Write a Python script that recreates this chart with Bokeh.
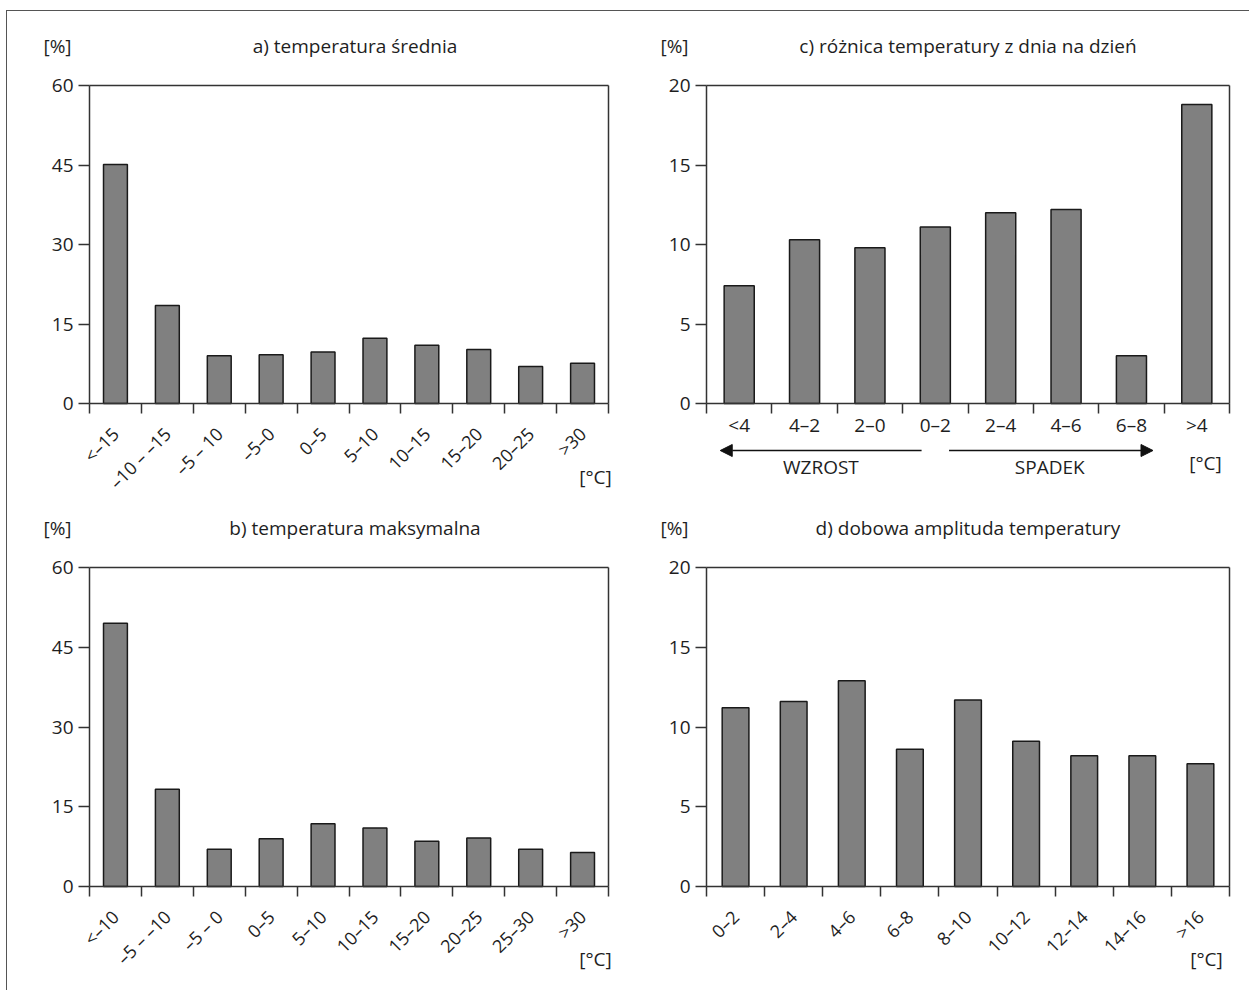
import math
import numpy as np
from bokeh.plotting import figure
from bokeh.layouts import column, row
from bokeh.models import (Range1d, LinearAxis, FixedTicker, Label, Arrow, NormalHead)
from bokeh.embed import file_html
from bokeh.resources import INLINE

# ---------------- data ----------------
cats_a = ["<–15", "–10 – –15", "–5 – 10", "–5–0", "0–5", "5–10", "10–15", "15–20", "20–25", ">30"]
vals_a = [45.1, 18.5, 9.0, 9.2, 9.7, 12.3, 11.0, 10.2, 7.0, 7.6]

cats_b = ["<–10", "–5 – –10", "–5 – 0", "0–5", "5–10", "10–15", "15–20", "20–25", "25–30", ">30"]
vals_b = [49.5, 18.3, 7.0, 9.0, 11.8, 11.0, 8.5, 9.1, 7.0, 6.4]

cats_c = ["<4", "4–2", "2–0", "0–2", "2–4", "4–6", "6–8", ">4"]
vals_c = [7.4, 10.3, 9.8, 11.1, 12.0, 12.2, 3.0, 18.8]

cats_d = ["0–2", "2–4", "4–6", "6–8", "8–10", "10–12", "12–14", "14–16", ">16"]
vals_d = [11.2, 11.6, 12.9, 8.6, 11.7, 9.1, 8.2, 8.2, 7.7]

yticks_ab = [0, 15, 30, 45, 60]
yticks_cd = [0, 5, 10, 15, 20]

title_a = "a) temperatura średnia"
title_b = "b) temperatura maksymalna"
title_c = "c) różnica temperatury z dnia na dzień"
title_d = "d) dobowa amplituda temperatury"
unit_y = "[%]"
unit_x = "[°C]"
word_up = "WZROST"
word_down = "SPADEK"

FONT = "Open Sans"
FS = "19px"
FS_ROT = "18px"
TXT = "#1e1e1e"
LINE = "#333333"


def no_tick_axis(loc, bnds):
    ax = LinearAxis(fixed_location=loc, bounds=bnds,
                    ticker=FixedTicker(ticks=[], minor_ticks=[]))
    ax.major_tick_out = 0
    ax.major_tick_in = 0
    ax.minor_tick_out = 0
    ax.minor_tick_in = 0
    ax.major_label_text_font_size = "0px"
    ax.axis_line_color = LINE
    ax.axis_line_width = 1.5
    return ax


def panel(cats, vals, yticks, title, W, H, L, T, FW, FH, rotate,
          title_dx, unit_dx, unit_dy):
    n = len(cats)
    ymax = yticks[-1]
    ppx = FW / n
    ppy = FH / ymax
    xr = Range1d(-L / ppx, (W - L) / ppx)
    yr = Range1d(-(H - T - FH) / ppy, ymax + T / ppy)
    p = figure(width=W, height=H, output_backend="svg", toolbar_location=None,
               x_range=xr, y_range=yr, x_axis_type=None, y_axis_type=None,
               min_border=0, min_border_left=0, min_border_right=0,
               min_border_top=0, min_border_bottom=0)
    p.title.visible = False
    p.outline_line_color = None
    p.background_fill_color = "white"
    p.border_fill_color = "white"

    centers = list(np.arange(n) + 0.5)
    bounds = list(range(n + 1))

    xa = LinearAxis(fixed_location=0, bounds=(0, n),
                    ticker=FixedTicker(ticks=centers, minor_ticks=bounds))
    xa.major_label_overrides = {c: lab for c, lab in zip(centers, cats)}
    xa.major_tick_out = 0
    xa.major_tick_in = 0
    xa.minor_tick_out = 10
    xa.minor_tick_in = 0
    xa.minor_tick_line_color = LINE
    xa.minor_tick_line_width = 1.5
    xa.axis_line_color = LINE
    xa.axis_line_width = 1.5
    xa.major_label_text_font = FONT
    xa.major_label_text_color = TXT
    if rotate:
        xa.major_label_text_font_size = FS_ROT
        xa.major_label_orientation = math.pi / 4
        xa.major_label_standoff = 17
    else:
        xa.major_label_text_font_size = FS
        xa.major_label_orientation = "horizontal"
        xa.major_label_standoff = -2
    p.add_layout(xa, "below")

    ya = LinearAxis(fixed_location=0, bounds=(0, ymax),
                    ticker=FixedTicker(ticks=yticks, minor_ticks=[]))
    ya.major_tick_out = 11
    ya.major_tick_in = 0
    ya.major_tick_line_color = LINE
    ya.major_tick_line_width = 1.5
    ya.axis_line_color = LINE
    ya.axis_line_width = 1.5
    ya.major_label_text_font = FONT
    ya.major_label_text_font_size = FS
    ya.major_label_text_color = TXT
    ya.major_label_standoff = 5
    p.add_layout(ya, "left")

    p.add_layout(no_tick_axis(ymax, (0, n)), "above")
    p.add_layout(no_tick_axis(n, (0, ymax)), "right")

    p.vbar(x=centers, top=vals, width=0.46, fill_color="#808080",
           line_color="#1a1a1a", line_width=1.5)

    common = dict(text_font=FONT, text_font_size=FS, text_color=TXT,
                  text_baseline="middle", text_align="center")
    y_title = ymax + 40 / ppy
    p.add_layout(Label(x=n / 2 + title_dx / ppx, y=y_title, text=title, **common))
    p.add_layout(Label(x=-32 / ppx, y=y_title, text=unit_y, **common))
    p.add_layout(Label(x=n + unit_dx / ppx, y=-unit_dy / ppy, text=unit_x, **common))
    return p, ppx, ppy


# layout geometry (pixels)
W1, W2 = 617, 625
H1, H2 = 482, 497
L, T = 82, 74

pa, _, _ = panel(cats_a, vals_a, yticks_ab, title_a, W1, H1, L, T, 519, 318, True, 6, -13, 73)
pb, _, _ = panel(cats_b, vals_b, yticks_ab, title_b, W1, H2, L, T, 519, 319, True, 6, -13, 72)
pc, ppx_c, ppy_c = panel(cats_c, vals_c, yticks_cd, title_c, W2, H1, L, T, 523, 318, False, 0, -24, 59)
pd, _, _ = panel(cats_d, vals_d, yticks_cd, title_d, W2, H2, L, T, 523, 319, True, 0, -23, 72)

# arrows and words under panel c
n_c = len(cats_c)
y_arrow = -47 / ppy_c
gap = 0.21
mid = n_c / 2 - 0.5
for xs, xe in [(mid - gap, 0.21), (mid + gap, n_c - 1.17)]:
    pc.add_layout(Arrow(end=NormalHead(size=12, fill_color="#111111", line_color="#111111"),
                        x_start=xs, y_start=y_arrow, x_end=xe, y_end=y_arrow,
                        line_color="#111111", line_width=1.5))
for xw, word in [(mid - 1.75, word_up), (mid + 1.75, word_down)]:
    pc.add_layout(Label(x=xw, y=-63 / ppy_c, text=word, text_align="center",
                        text_baseline="middle", text_font=FONT, text_font_size=FS,
                        text_color=TXT))

layout = column(row(pa, pc), row(pb, pd),
                styles={"border-top": "1px solid #555", "border-left": "1px solid #555",
                        "margin-top": "10px", "margin-left": "6px"})

open("out.html", "w").write(file_html(layout, INLINE))
